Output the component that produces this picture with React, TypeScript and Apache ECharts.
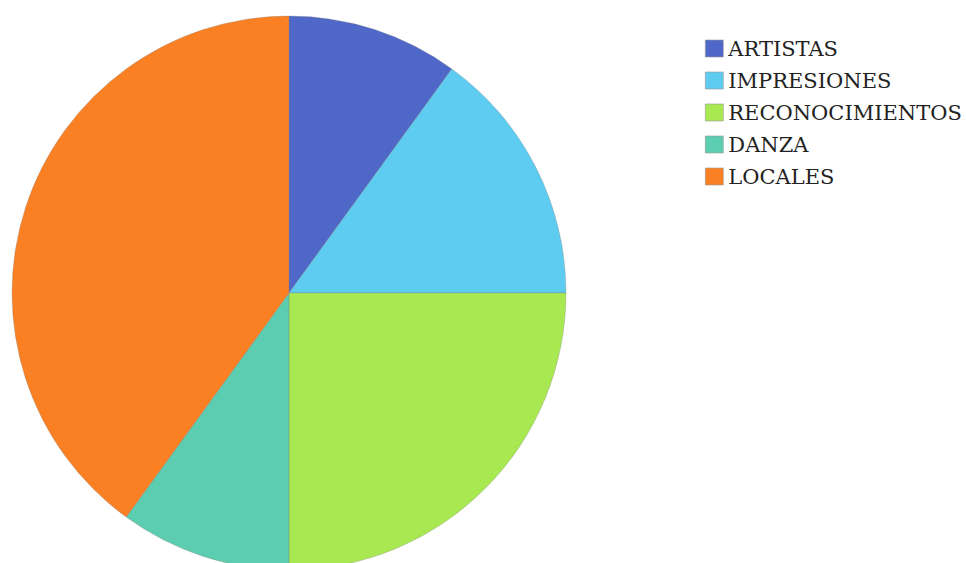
import React, { useEffect, useRef } from "react";
import * as echarts from "echarts";

const categories = ["ARTISTAS", "IMPRESIONES", "RECONOCIMIENTOS", "DANZA", "LOCALES"];
const values = [10, 15, 25, 10, 40];
const colors = ["#4f67c7", "#5ecbf0", "#a8e952", "#5ccdb0", "#fb8023"];

export default function App() {
  const ref = useRef<HTMLDivElement>(null);
  useEffect(() => {
    if (!ref.current) return;
    const chart = echarts.init(ref.current, undefined, { renderer: "svg" });
    chart.setOption({
      animation: false,
      color: colors,
      legend: {
        orient: "vertical",
        left: 705,
        top: 38,
        padding: 0,
        itemWidth: 18,
        itemHeight: 17,
        itemGap: 11,
        icon: "rect",
        data: categories,
        itemStyle: { borderColor: "#999", borderWidth: 0.6 },
        textStyle: { fontFamily: "DejaVu Serif", fontSize: 21, color: "#222" },
      },
      series: [
        {
          type: "pie",
          center: [289, 293],
          radius: 277,
          startAngle: 90,
          clockwise: true,
          label: { show: false },
          labelLine: { show: false },
          itemStyle: { borderColor: "rgba(120,120,120,0.6)", borderWidth: 0.5 },
          emphasis: { disabled: true },
          data: categories.map((n, i) => ({ name: n, value: values[i] })),
        },
      ],
    });
    return () => chart.dispose();
  }, []);
  return (
    <div
      ref={ref}
      style={{ position: "absolute", left: 0, top: 0, width: 966, height: 563 }}
    />
  );
}
